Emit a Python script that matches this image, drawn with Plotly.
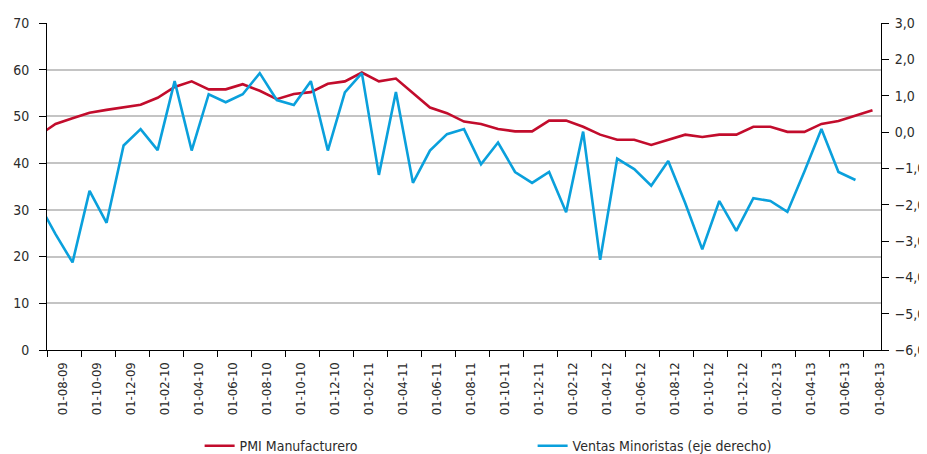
import plotly.graph_objects as go
import pandas as pd

# Monthly categories (first one, Jul-09, lies just outside the visible range)
months = [d.strftime("%d-%m-%y") for d in pd.date_range("2009-07-01", "2013-08-01", freq="MS")]

pmi = [45.9, 48.4, 49.6, 50.8, 51.4, 52.0, 52.5, 54.0, 56.3, 57.5, 55.8, 55.8, 56.9,
       55.5, 53.7, 54.8, 55.2, 57.0, 57.5, 59.4, 57.5, 58.1, 55.0, 51.9, 50.7, 48.9,
       48.4, 47.3, 46.8, 46.8, 49.1, 49.1, 47.8, 46.1, 45.0, 45.0, 43.9, 45.0, 46.1,
       45.6, 46.1, 46.1, 47.8, 47.8, 46.7, 46.7, 48.4, 49.0, 50.1, 51.3]

ventas = [-1.96, -2.81, -3.59, -1.62, -2.50, -0.37, 0.08, -0.50, 1.40, -0.51, 1.04, 0.82,
          1.04, 1.62, 0.88, 0.74, 1.40, -0.51, 1.09, 1.62, -1.18, 1.10, -1.40, -0.51,
          -0.06, 0.08, -0.89, -0.29, -1.10, -1.40, -1.10, -2.21, 0.01, -3.52, -0.73,
          -1.02, -1.48, -0.80, -1.96, -3.23, -1.90, -2.72, -1.82, -1.90, -2.20, -1.09,
          0.08, -1.10, -1.32]

tick_labels = ["01-08-09", "01-10-09", "01-12-09", "01-02-10", "01-04-10", "01-06-10",
               "01-08-10", "01-10-10", "01-12-10", "01-02-11", "01-04-11", "01-06-11",
               "01-08-11", "01-10-11", "01-12-11", "01-02-12", "01-04-12", "01-06-12",
               "01-08-12", "01-10-12", "01-12-12", "01-02-13", "01-04-13", "01-06-13",
               "01-08-13"]

RED = "#C20C2C"
BLUE = "#0AA0DC"
TXT = "#2b2b2b"
FONT = "Liberation Sans Narrow, DejaVu Sans Condensed, Roboto, sans-serif"

pos = {m: i - 1 for i, m in enumerate(months)}
x_pmi = [pos[m] for m in months[:len(pmi)]]
x_ven = [pos[m] for m in months[:len(ventas)]]
label_pos = [pos[lbl] + 0.4 for lbl in tick_labels]
boundaries = [pos[lbl] - 0.5 for lbl in tick_labels]

fig = go.Figure()
fig.add_trace(go.Scatter(x=x_pmi, y=pmi, mode="lines", name="PMI Manufacturero",
                         line=dict(color=RED, width=2.6)))
fig.add_trace(go.Scatter(x=x_ven, y=ventas, mode="lines", name="Ventas Minoristas (eje derecho)",
                         line=dict(color=BLUE, width=2.6), yaxis="y2"))

fig.update_layout(
    width=927, height=454,
    margin=dict(l=39, r=54, t=15, b=112, autoexpand=False),
    paper_bgcolor="white", plot_bgcolor="white",
    separators=",.",
    font=dict(family=FONT, size=13, color=TXT),
    showlegend=True,
    legend=dict(orientation="h", x=0.183, xanchor="left", yref="container", y=0.035,
                yanchor="middle", entrywidth=288, font=dict(size=14, color=TXT)),
    xaxis=dict(range=[-0.5, 48.5], tickmode="array", tickvals=label_pos, ticktext=tick_labels,
               tickangle=-90, ticks="outside", ticklen=6, tickcolor="rgba(0,0,0,0)",
               showgrid=False, zeroline=False, showline=True, linecolor="black", linewidth=1,
               minor=dict(tickmode="array", tickvals=boundaries, ticks="outside", ticklen=6,
                          tickcolor="black", tickwidth=1, showgrid=False),
               tickfont=dict(size=13, color=TXT)),
    yaxis=dict(range=[0, 70], dtick=10, showgrid=True, gridcolor="#c4c4c4", gridwidth=1.5,
               zeroline=False, showline=True, linecolor="black", linewidth=1,
               ticks="outside", ticklen=7, tickcolor="black", ticklabelstandoff=7,
               tickfont=dict(size=14, color=TXT)),
    yaxis2=dict(range=[-6, 3], dtick=1, tickformat=".1f", overlaying="y", side="right",
                showgrid=False, zeroline=False, showline=True, linecolor="black", linewidth=1,
                ticks="outside", ticklen=7, tickcolor="black", ticklabelstandoff=3,
                tickfont=dict(size=14, color=TXT)),
)

fig.write_html("out.html")
